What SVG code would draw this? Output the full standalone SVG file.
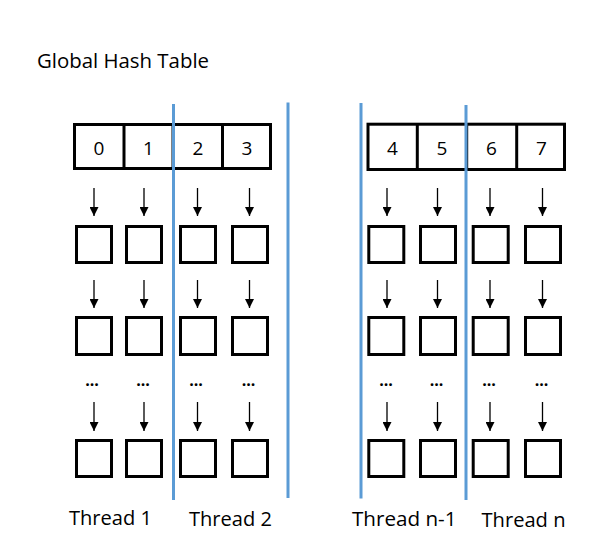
<svg xmlns="http://www.w3.org/2000/svg" width="593" height="548" viewBox="0 0 593 548">
<style>
  text { font-family: "Open Sans", "Noto Sans", "Liberation Sans", sans-serif; fill: #000; }
  .lbl { font-size: 20px; }
  .num { font-size: 19px; text-anchor: middle; }
  .dots { font-size: 16px; text-anchor: middle; font-weight: bold; }
  .cell { fill: #fff; stroke: #000; stroke-width: 3; }
  .div { stroke: #000; stroke-width: 3; }
  .arr { stroke: #000; stroke-width: 1.3; fill: none; marker-end: url(#ah); }
  .sep { stroke: #5b9bd5; stroke-width: 3; }
</style>
<defs>
  <marker id="ah" markerUnits="userSpaceOnUse" markerWidth="9" markerHeight="9" viewBox="0 0 9 9" refX="9" refY="4.5" orient="auto">
    <path d="M0,0 L9,4.5 L0,9 Z" fill="#000"/>
  </marker>
</defs>
<rect width="593" height="548" fill="#fff"/>
<text id="title" class="lbl" x="37" y="68" textLength="172" lengthAdjust="spacingAndGlyphs">Global Hash Table</text>

<g id="table-left">
  <rect class="cell" x="74.5" y="124.5" width="196" height="44"/>
  <line class="div" x1="124" y1="124.5" x2="124" y2="168.5"/>
  <line class="div" x1="173" y1="124.5" x2="173" y2="168.5"/>
  <line class="div" x1="222.5" y1="124.5" x2="222.5" y2="168.5"/>
  <text class="num" x="99" y="154.5">0</text>
  <text class="num" x="148.5" y="154.5">1</text>
  <text class="num" x="198" y="154.5">2</text>
  <text class="num" x="247" y="154.5">3</text>
</g>
<g id="table-right">
  <rect class="cell" x="368" y="124.2" width="196.5" height="45.3"/>
  <line class="div" x1="417.3" y1="124.2" x2="417.3" y2="169.5"/>
  <line class="div" x1="466.7" y1="124.2" x2="466.7" y2="169.5"/>
  <line class="div" x1="516.7" y1="124.2" x2="516.7" y2="169.5"/>
  <text class="num" x="392.5" y="154.5">4</text>
  <text class="num" x="442" y="154.5">5</text>
  <text class="num" x="491.5" y="154.5">6</text>
  <text class="num" x="541.5" y="154.5">7</text>
</g>

<g id="buckets-left">
  <rect class="cell" x="76.5" y="226.5" width="35" height="36"/>
  <rect class="cell" x="126.5" y="226.5" width="35" height="36"/>
  <rect class="cell" x="180.5" y="226.5" width="35" height="36"/>
  <rect class="cell" x="232.5" y="226.5" width="35" height="36"/>
  <rect class="cell" x="76.5" y="317.5" width="35" height="37"/>
  <rect class="cell" x="126.5" y="317.5" width="35" height="37"/>
  <rect class="cell" x="180.5" y="317.5" width="35" height="37"/>
  <rect class="cell" x="232.5" y="317.5" width="35" height="37"/>
  <rect class="cell" x="76.5" y="440.5" width="35" height="36"/>
  <rect class="cell" x="126.5" y="440.5" width="35" height="36"/>
  <rect class="cell" x="180.5" y="440.5" width="35" height="36"/>
  <rect class="cell" x="232.5" y="440.5" width="35" height="36"/>
  <text class="dots" x="92" y="386">...</text>
  <text class="dots" x="143" y="386">...</text>
  <text class="dots" x="196" y="386">...</text>
  <text class="dots" x="248.5" y="386">...</text>
</g>
<g id="buckets-right">
  <rect class="cell" x="368.8" y="226.5" width="35" height="36"/>
  <rect class="cell" x="420.5" y="226.5" width="35" height="36"/>
  <rect class="cell" x="473.2" y="226.5" width="35" height="36"/>
  <rect class="cell" x="525.5" y="226.5" width="35" height="36"/>
  <rect class="cell" x="368.8" y="317.5" width="35" height="37"/>
  <rect class="cell" x="420.5" y="317.5" width="35" height="37"/>
  <rect class="cell" x="473.2" y="317.5" width="35" height="37"/>
  <rect class="cell" x="525.5" y="317.5" width="35" height="37"/>
  <rect class="cell" x="368.8" y="440.5" width="35" height="36"/>
  <rect class="cell" x="420.5" y="440.5" width="35" height="36"/>
  <rect class="cell" x="473.2" y="440.5" width="35" height="36"/>
  <rect class="cell" x="525.5" y="440.5" width="35" height="36"/>
  <text class="dots" x="386" y="386">...</text>
  <text class="dots" x="436.5" y="386">...</text>
  <text class="dots" x="489" y="386">...</text>
  <text class="dots" x="541.5" y="386">...</text>
</g>

<g id="connectors">
  <line class="arr" x1="94" y1="188" x2="94" y2="216"/>
  <line class="arr" x1="144" y1="188" x2="144" y2="216"/>
  <line class="arr" x1="197.5" y1="188" x2="197.5" y2="216"/>
  <line class="arr" x1="249.5" y1="188" x2="249.5" y2="216"/>
  <line class="arr" x1="94" y1="280" x2="94" y2="308"/>
  <line class="arr" x1="144" y1="280" x2="144" y2="308"/>
  <line class="arr" x1="197.5" y1="280" x2="197.5" y2="308"/>
  <line class="arr" x1="249.5" y1="280" x2="249.5" y2="308"/>
  <line class="arr" x1="94" y1="402" x2="94" y2="431"/>
  <line class="arr" x1="144" y1="402" x2="144" y2="431"/>
  <line class="arr" x1="197.5" y1="402" x2="197.5" y2="431"/>
  <line class="arr" x1="249.5" y1="402" x2="249.5" y2="431"/>
  <line class="arr" x1="387" y1="188" x2="387" y2="216"/>
  <line class="arr" x1="437.5" y1="188" x2="437.5" y2="216"/>
  <line class="arr" x1="490" y1="188" x2="490" y2="216"/>
  <line class="arr" x1="542.5" y1="188" x2="542.5" y2="216"/>
  <line class="arr" x1="387" y1="280" x2="387" y2="308"/>
  <line class="arr" x1="437.5" y1="280" x2="437.5" y2="308"/>
  <line class="arr" x1="490" y1="280" x2="490" y2="308"/>
  <line class="arr" x1="542.5" y1="280" x2="542.5" y2="308"/>
  <line class="arr" x1="387" y1="402" x2="387" y2="431"/>
  <line class="arr" x1="437.5" y1="402" x2="437.5" y2="431"/>
  <line class="arr" x1="490" y1="402" x2="490" y2="431"/>
  <line class="arr" x1="542.5" y1="402" x2="542.5" y2="431"/>
</g>

<g id="separators">
  <line class="sep" x1="173.5" y1="104" x2="173.5" y2="500"/>
  <line class="sep" x1="288" y1="102.5" x2="288" y2="498"/>
  <line class="sep" x1="361" y1="103" x2="361" y2="498.5"/>
  <line class="sep" x1="466" y1="105" x2="466" y2="500"/>
</g>

<g id="thread-labels">
  <text class="lbl" x="69" y="525" textLength="83" lengthAdjust="spacingAndGlyphs">Thread 1</text>
  <text class="lbl" x="189" y="525.5" textLength="83" lengthAdjust="spacingAndGlyphs">Thread 2</text>
  <text class="lbl" x="352" y="525.5" textLength="104.5" lengthAdjust="spacingAndGlyphs">Thread n-1</text>
  <text class="lbl" x="481.5" y="526.5" textLength="84" lengthAdjust="spacingAndGlyphs">Thread n</text>
</g>
</svg>
